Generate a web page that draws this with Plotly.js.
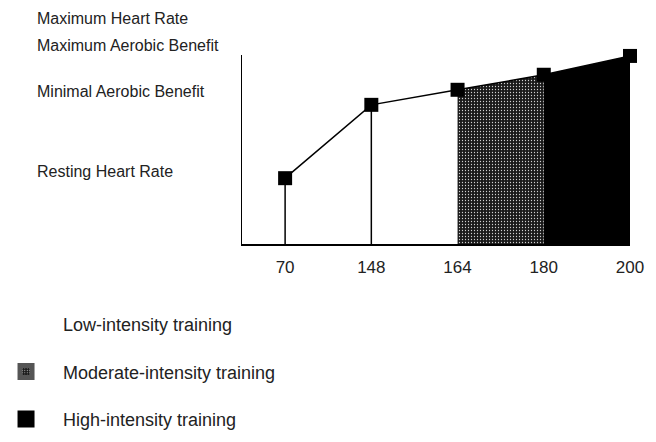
<!DOCTYPE html>
<html>
<head>
<meta charset="utf-8">
<script src="https://cdn.plot.ly/plotly-3.0.1.min.js"></script>
<style>html,body{margin:0;padding:0;background:#fff;}#chart{width:656px;height:442px;}</style>
</head>
<body>
<div id="chart"></div>
<script>
// Data
var categories = ["70", "148", "164", "180", "200"];
var heartRate = [70, 148, 164, 180, 200];
var zoneLabels = ["Low-intensity training", "Moderate-intensity training", "High-intensity training"];
var levelLabels = ["Maximum Heart Rate", "Maximum Aerobic Benefit", "Minimal Aerobic Benefit", "Resting Heart Rate"];
var levelValues = [240, 211, 162, 77];

var yRange = [0, 201];
var idx = categories.map(function (c, i) { return i; });

// vertical drop lines for the first two points
var dropX = [], dropY = [];
[0, 1].forEach(function (i) { dropX.push(idx[i], idx[i], null); dropY.push(0, heartRate[i], null); });

var modPattern = {shape: '.', fgcolor: '#d0d0d0', bgcolor: '#1a1a1a', size: 3, solidity: 0.14};

var traces = [
  { // moderate zone fill
    x: idx.slice(2, 4), y: heartRate.slice(2, 4), type: 'scatter', mode: 'lines',
    fill: 'tozeroy', line: {width: 0, color: '#000'},
    fillcolor: '#1a1a1a', fillpattern: modPattern,
    showlegend: false, hoverinfo: 'skip'
  },
  { // high zone fill
    x: idx.slice(3, 5), y: heartRate.slice(3, 5), type: 'scatter', mode: 'lines',
    fill: 'tozeroy', line: {width: 0, color: '#000'}, fillcolor: '#000',
    showlegend: false, hoverinfo: 'skip'
  },
  { // drop lines
    x: dropX, y: dropY, type: 'scatter', mode: 'lines',
    line: {color: '#000', width: 1.5}, showlegend: false, hoverinfo: 'skip'
  },
  { // main line
    x: idx, y: heartRate, type: 'scatter', mode: 'lines+markers',
    line: {color: '#000', width: 1.5},
    marker: {symbol: 'square', size: 14, color: '#000'},
    cliponaxis: false, showlegend: false
  },
  { // legend: low
    x: [null], y: [null], type: 'bar', name: zoneLabels[0], legendgroup: 'a',
    marker: {color: '#fff', line: {width: 0}}
  },
  { // legend: moderate
    x: [null], y: [null], type: 'bar', name: zoneLabels[1], legendgroup: 'b',
    marker: {color: '#1a1a1a', line: {width: 5, color: '#555'}, pattern: modPattern}
  },
  { // legend: high
    x: [null], y: [null], type: 'bar', name: zoneLabels[2], legendgroup: 'c',
    marker: {color: '#000', line: {width: 5, color: '#000'}}
  }
];

var annotations = levelLabels.map(function (t, i) {
  return {
    text: t, xref: 'paper', yref: 'paper', x: -0.534,
    y: (levelValues[i] - yRange[0]) / (yRange[1] - yRange[0]),
    xanchor: 'left', yanchor: 'middle', showarrow: false,
    font: {size: 16, color: '#222'}
  };
});

var layout = {
  width: 656, height: 442,
  margin: {l: 242, r: 26, t: 55, b: 198, autoexpand: false},
  paper_bgcolor: '#fff', plot_bgcolor: '#fff',
  font: {family: '"Liberation Sans", Arial, sans-serif', color: '#222'},
  showlegend: true,
  legend: {
    orientation: 'v', x: -0.652, y: -0.328, xanchor: 'left', yanchor: 'top',
    traceorder: 'grouped', tracegroupgap: 21, itemwidth: 64,
    font: {size: 18, color: '#222'}, bgcolor: 'rgba(0,0,0,0)'
  },
  xaxis: {
    range: [-0.5, 4], tickvals: idx, ticktext: categories,
    showline: true, linecolor: '#000', linewidth: 1.5,
    showgrid: false, zeroline: false, ticks: '', ticklabelstandoff: 7,
    tickfont: {size: 17, color: '#222'}, fixedrange: true
  },
  yaxis: {
    range: yRange, showline: true, linecolor: '#000', linewidth: 1.5,
    showgrid: false, zeroline: false, ticks: '', showticklabels: false, fixedrange: true
  },
  annotations: annotations
};

Plotly.newPlot('chart', traces, layout, {displayModeBar: false, staticPlot: true});
</script>
</body>
</html>
